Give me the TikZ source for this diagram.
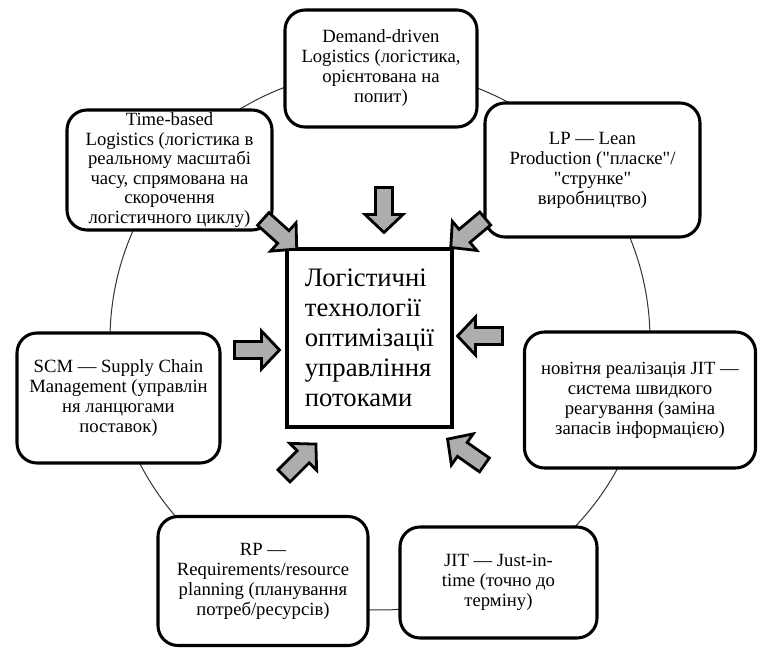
\documentclass[tikz,border=0pt]{standalone}
\usepackage{fontspec}
\setmainfont{Liberation Serif}[Ligatures=TeXOff]
\newcommand\blkarrow[3]{\draw[barrow, shift={(#1,#2)}, rotate=#3] (-22.5,-8.5) -- (4.5,-8.5) -- (4.5,-19) -- (22.5,0) -- (4.5,19) -- (4.5,8.5) -- (-22.5,8.5) -- cycle;}
\begin{document}
\begin{tikzpicture}[x=0.75pt,y=-0.75pt,
  box/.style={draw, line width=2.3pt, rounded corners=15pt, fill=white, align=center, inner sep=0pt,
    font=\fontsize{14}{15}\selectfont},
  centerbox/.style={draw, line width=2.3pt, fill=white, align=left, inner sep=0pt,
    minimum width=123.75pt, minimum height=133.5pt, font=\fontsize{20}{22.5}\selectfont},
  barrow/.style={draw, line width=2.1pt, fill=black!32, line join=miter}]
\useasboundingbox (0,0) rectangle (758,648);
\draw[line width=0.75pt, black!80] (380,340) circle[radius=202.5pt];
\node[box, minimum width=144pt, minimum height=87.75pt] (demand) at (381,68.5)
  {Demand-driven\\Logistics (логістика,\\орієнтована на\\попит)};
\node[box, minimum width=153.75pt, minimum height=90pt, font=\fontsize{14}{14.6}\selectfont] (time) at (169.5,170)
  {Time-based\\Logistics (логістика в\\реальному масштабі\\часу, спрямована на\\скорочення\\логістичного циклу)};
\node[box, minimum width=161.25pt, minimum height=100.5pt] (lp) at (592.5,170)
  {LP — Lean\\Production ("пласке"/\\"струнке"\\виробництво)};
\node[box, minimum width=152.25pt, minimum height=97.5pt] (scm) at (118.5,398)
  {SCM — Supply Chain\\Management (управлін\\ня ланцюгами\\поставок)};
\node[box, minimum width=173.25pt, minimum height=102pt] (nov) at (640,400)
  {новітня реалізація JIT —\\система швидкого\\реагування (заміна\\запасів інформацією)};
\node[box, minimum width=157.5pt, minimum height=96.75pt] (rp) at (263,581)
  {RP —\\Requirements/resource\\planning (планування\\потреб/ресурсів)};
\node[box, minimum width=147.75pt, minimum height=83.25pt] (jit) at (498.5,582.5)
  {JIT — Just-in-\\time (точно до\\терміну)};
\node[centerbox] (center) at (369.5,338)
  {Логістичні\\технології\\оптимізації\\управління\\потоками};
\blkarrow{384}{210}{-90}
\blkarrow{257}{350}{0}
\blkarrow{480}{336}{180}
\blkarrow{280}{234}{-42}
\blkarrow{468}{233}{-140}
\blkarrow{300}{460}{45}
\blkarrow{466}{452}{145}
\end{tikzpicture}
\end{document}
